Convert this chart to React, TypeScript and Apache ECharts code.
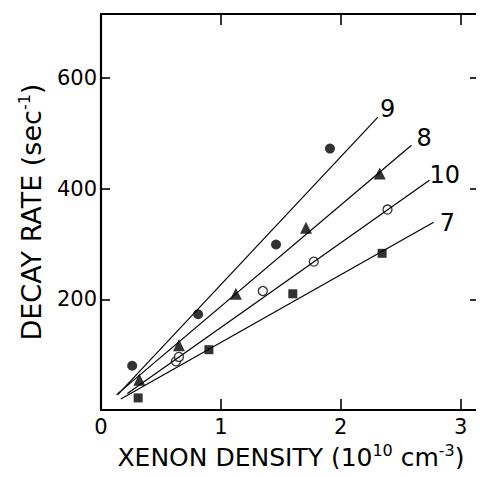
import React, { useEffect, useRef } from "react";
import * as echarts from "echarts";

// Measured points (x: 10^10 cm^-3, y: sec^-1)
const run9Points: number[][] = [[0.26, 80], [0.81, 173], [1.46, 299], [1.91, 472]];
const run8Points: number[][] = [[0.32, 55], [0.65, 117], [1.125, 210], [1.71, 329], [2.325, 427]];
const run10Points: number[][] = [[0.625, 88], [0.65, 96], [1.35, 215], [1.775, 268], [2.39, 362]];
const run7Points: number[][] = [[0.31, 22], [0.9, 109], [1.6, 210], [2.345, 283]];

// Fitted lines (start and end points)
const run9Line: number[][] = [[0.14, 28], [2.31, 529]];
const run8Line: number[][] = [[0.13, 28], [2.59, 478]];
const run10Line: number[][] = [[0.22, 30], [2.74, 415]];
const run7Line: number[][] = [[0.165, 20], [2.775, 339]];

const lineLabels = ["9", "8", "10", "7"];
const xTicks = [0, 1, 2, 3];
const yTicks = [200, 400, 600];

const FONT = "DejaVu Sans";

export default function App() {
  const ref = useRef<HTMLDivElement>(null);
  useEffect(() => {
    if (!ref.current) return;
    const chart = echarts.init(ref.current, null, { renderer: "svg" });
    const axisLine = { show: true, onZero: false, lineStyle: { color: "#000", width: 2.2 } };
    const tick = { show: true, inside: true, length: 11, lineStyle: { color: "#000", width: 1.6 } };
    const lineSeries = (data: number[][], label: string, offset: number[]) => ({
      type: "line",
      name: "fit " + label,
      data,
      showSymbol: false,
      symbol: "none",
      lineStyle: { color: "#000", width: 1.2 },
      endLabel: {
        show: true,
        formatter: label,
        fontFamily: FONT,
        fontSize: 24,
        color: "#000",
        offset,
      },
      silent: true,
    });
    const nameStyle = (size: number) => ({
      fontFamily: FONT,
      fontSize: size,
      color: "#000",
      lineHeight: 30,
      rich: {
        sup: { fontFamily: FONT, fontSize: 16, verticalAlign: "top", lineHeight: 16, color: "#000" },
      },
    });
    chart.setOption({
      animation: false,
      backgroundColor: "#fff",
      textStyle: { fontFamily: FONT, color: "#000" },
      grid: { left: 101, width: 380, top: 14, height: 398 },
      xAxis: [
        {
          type: "value",
          min: 0,
          max: 3.17,
          interval: 1,
          position: "bottom",
          axisLine,
          axisTick: tick,
          splitLine: { show: false },
          axisLabel: {
            fontFamily: FONT,
            fontSize: 21,
            color: "#000",
            margin: 6,
            showMaxLabel: false,
            formatter: (v: number) => (xTicks.includes(v) ? String(v) : ""),
          },
          name: "XENON DENSITY (10{sup|10} cm{sup|-3})",
          nameLocation: "middle",
          nameGap: 31,
          nameTextStyle: nameStyle(25),
        },
        {
          type: "value",
          min: 0,
          max: 3.17,
          interval: 1,
          position: "top",
          axisLine,
          axisTick: tick,
          splitLine: { show: false },
          axisLabel: { show: false },
        },
      ],
      yAxis: [
        {
          type: "value",
          min: 0,
          max: 715,
          interval: 200,
          position: "left",
          axisLine,
          axisTick: { ...tick, length: 9 },
          splitLine: { show: false },
          axisLabel: {
            fontFamily: FONT,
            fontSize: 21,
            color: "#000",
            margin: 4,
            showMinLabel: false,
            showMaxLabel: false,
            formatter: (v: number) => (yTicks.includes(v) ? String(v) : ""),
          },
          name: "DECAY RATE (sec{sup|-1})",
          nameLocation: "middle",
          nameGap: 54,
          nameTextStyle: nameStyle(27),
        },
        {
          type: "value",
          min: 0,
          max: 715,
          interval: 200,
          position: "right",
          axisLine,
          axisTick: tick,
          splitLine: { show: false },
          axisLabel: { show: false },
        },
      ],
      series: [
        lineSeries(run9Line, lineLabels[0], [-6, -8]),
        lineSeries(run8Line, lineLabels[1], [-3, -7]),
        lineSeries(run10Line, lineLabels[2], [-8, -5]),
        lineSeries(run7Line, lineLabels[3], [-2, 1]),
        {
          type: "scatter",
          name: "9",
          data: run9Points,
          symbol: "circle",
          symbolSize: 10,
          itemStyle: { color: "#000" },
        },
        {
          type: "scatter",
          name: "8",
          data: run8Points,
          symbol: "triangle",
          symbolSize: 12,
          itemStyle: { color: "#000" },
        },
        {
          type: "scatter",
          name: "10",
          data: run10Points,
          symbol: "circle",
          symbolSize: 9,
          itemStyle: { color: "#fff", borderColor: "#000", borderWidth: 1.3 },
        },
        {
          type: "scatter",
          name: "7",
          data: run7Points,
          symbol: "rect",
          symbolSize: 9,
          itemStyle: { color: "#000" },
        },
      ],
    });
    return () => chart.dispose();
  }, []);
  return <div ref={ref} style={{ width: 484, height: 477, margin: -8 }} />;
}
